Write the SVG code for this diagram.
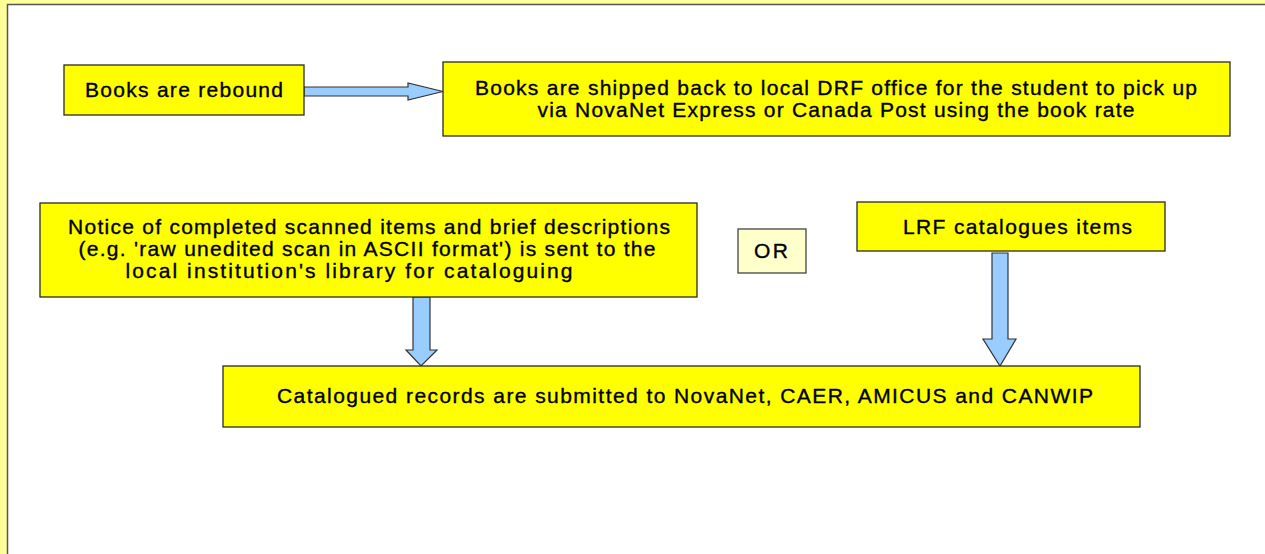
<svg xmlns="http://www.w3.org/2000/svg" width="1265" height="554" viewBox="0 0 1265 554">
<defs>
<style>
.box{fill:#ffff00;stroke:#2a2a2a;stroke-width:1.3}
.or{fill:#ffffcc;stroke:#444;stroke-width:1.3}
.arrow{fill:#99ccff;stroke:#333;stroke-width:1.2;stroke-linejoin:miter}
text{font-family:"Liberation Sans",Arial,sans-serif;font-size:21px;fill:#000;stroke:#000;stroke-width:0.35;text-anchor:middle}
</style>
</defs>
<rect x="0" y="0" width="1265" height="554" fill="#ffff99"/>
<rect x="7.5" y="4.5" width="1265" height="560" fill="#ffffff" stroke="#555" stroke-width="1.5"/>
<g id="connectors">
<polygon class="arrow" points="304,87 408,87 408,83 443,91.5 408,100 408,96 304,96"/>
<polygon class="arrow" points="413,297 430,297 430,350 437,350 421,366 406,350 413,350"/>
<polygon class="arrow" points="992,253 1008,253 1008,339 1016,339 1000,366 983,339 992,339"/>
</g>
<g id="node-rebound">
<rect class="box" x="64" y="65" width="240" height="50"/>
<text x="184" y="96.5" textLength="198" lengthAdjust="spacing">Books are rebound</text>
</g>
<g id="node-shipped">
<rect class="box" x="443" y="62" width="787" height="74"/>
<text x="836" y="95" textLength="722" lengthAdjust="spacing">Books are shipped back to local DRF office for the student to pick up</text>
<text x="836" y="116.5" textLength="597" lengthAdjust="spacing">via NovaNet Express or Canada Post using the book rate</text>
</g>
<g id="node-notice">
<rect class="box" x="40" y="203" width="657" height="94"/>
<text x="369" y="233.5" textLength="602" lengthAdjust="spacing">Notice of completed scanned items and brief descriptions</text>
<text x="367" y="255.5" textLength="577" lengthAdjust="spacing">(e.g. 'raw unedited scan in ASCII format') is sent to the</text>
<text x="349" y="277.5" textLength="447" lengthAdjust="spacing">local institution's library for cataloguing</text>
</g>
<g id="node-or">
<rect class="or" x="738" y="229" width="68" height="44"/>
<text x="771" y="258" textLength="34" lengthAdjust="spacing">OR</text>
</g>
<g id="node-lrf">
<rect class="box" x="857" y="202" width="308" height="49"/>
<text x="1017.5" y="233.5" textLength="229" lengthAdjust="spacing">LRF catalogues items</text>
</g>
<g id="node-catalogued">
<rect class="box" x="223" y="366" width="917" height="61"/>
<text x="685" y="403" textLength="816" lengthAdjust="spacing">Catalogued records are submitted to NovaNet, CAER, AMICUS and CANWIP</text>
</g>
</svg>
